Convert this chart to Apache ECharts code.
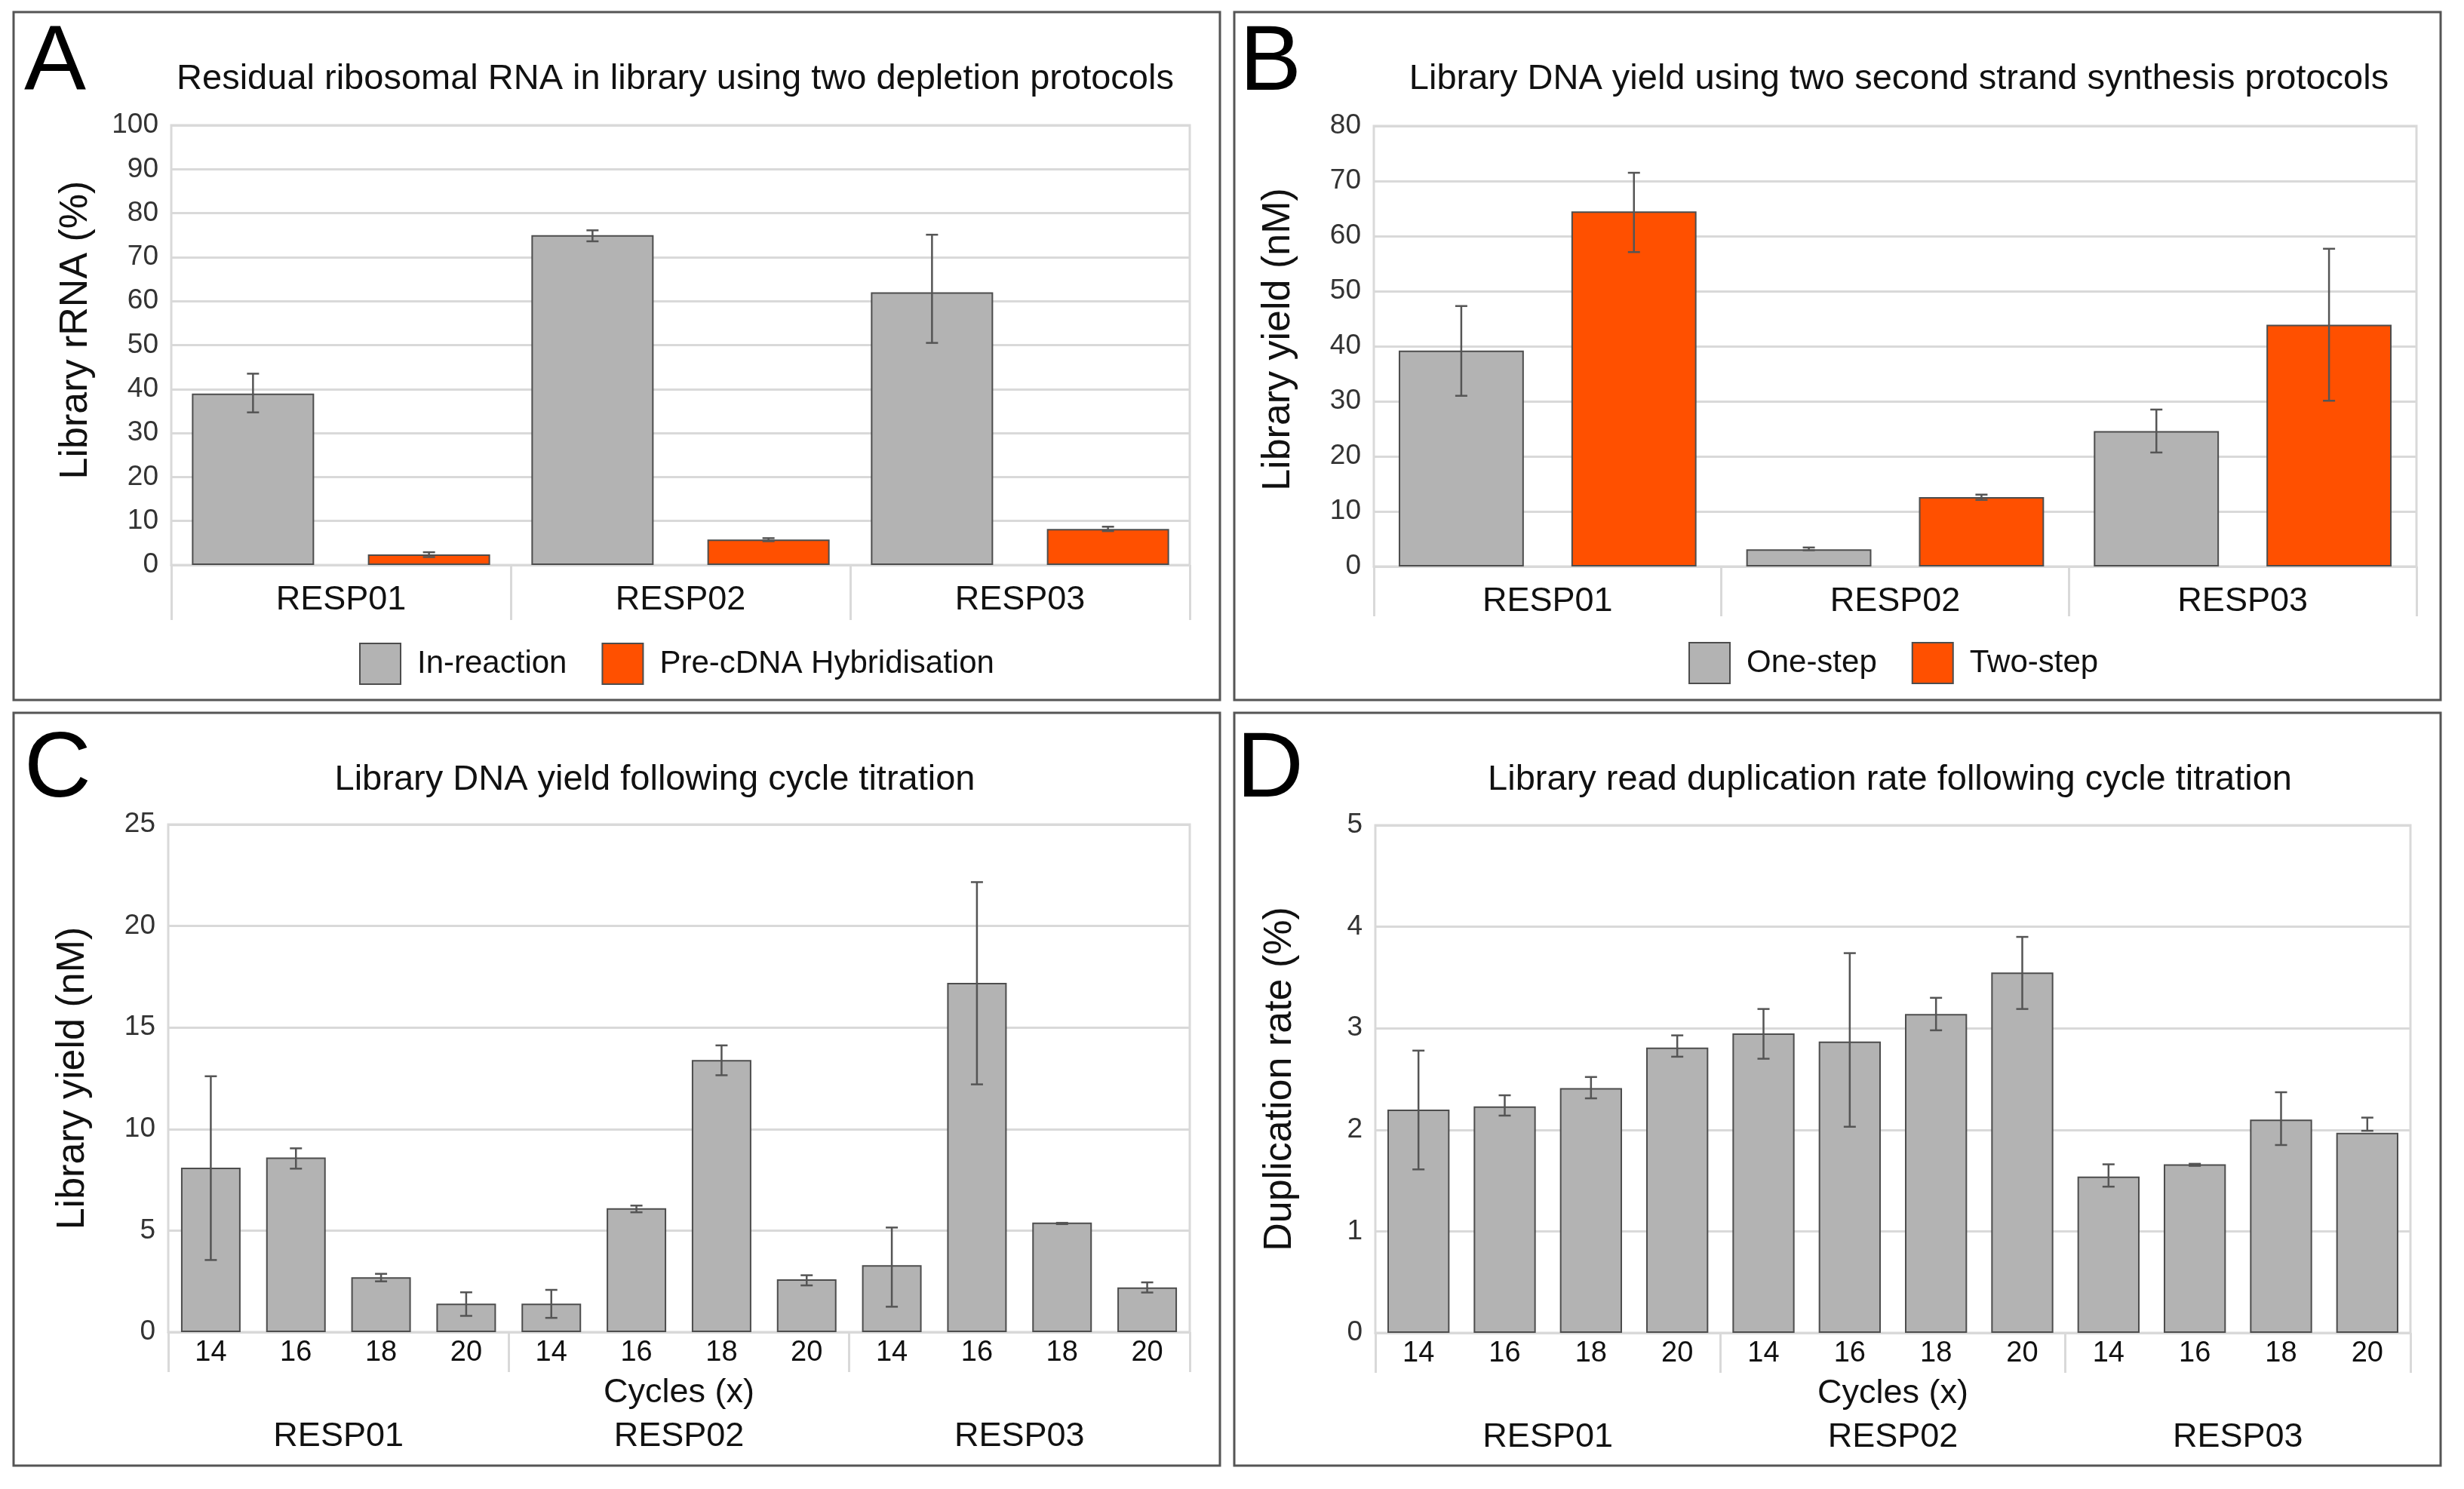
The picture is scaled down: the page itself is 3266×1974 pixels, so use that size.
<!DOCTYPE html>
<html><head><meta charset="utf-8">
<script src="https://cdn.jsdelivr.net/npm/echarts@6/dist/echarts.min.js"></script>
<style>html,body{margin:0;padding:0;background:#fff}#c{width:3266px;height:1974px}</style>
</head><body><div id="c"></div>
<script>
// ---- data ----
const groups = ['RESP01', 'RESP02', 'RESP03'];
const cycles = ['14', '16', '18', '20', '14', '16', '18', '20', '14', '16', '18', '20'];

// Panel A: residual rRNA (%)
const aInReaction   = [39.0, 75.0, 62.0];
const aInReactionLo = [34.7, 73.6, 50.5];
const aInReactionHi = [43.5, 76.1, 75.1];
const aPreCDNA      = [2.4, 5.8, 8.2];
const aPreCDNALo    = [1.8, 5.4, 7.7];
const aPreCDNAHi    = [2.9, 6.1, 8.7];

// Panel B: library yield (nM)
const bOneStep   = [39.2, 3.1, 24.6];
const bOneStepLo = [31.0, 2.95, 20.7];
const bOneStepHi = [47.3, 3.45, 28.5];
const bTwoStep   = [64.5, 12.6, 43.9];
const bTwoStepLo = [57.1, 12.1, 30.1];
const bTwoStepHi = [71.5, 13.05, 57.7];

// Panel C: library yield (nM) by cycles
const cYield   = [8.1, 8.6, 2.7, 1.4, 1.4, 6.1, 13.4, 2.6, 3.3, 17.2, 5.4, 2.2];
const cYieldLo = [3.55, 8.05, 2.5, 0.8, 0.7, 5.9, 12.65, 2.3, 1.25, 12.2, 5.32, 1.95];
const cYieldHi = [12.6, 9.05, 2.87, 1.96, 2.08, 6.23, 14.12, 2.8, 5.15, 22.16, 5.38, 2.45];

// Panel D: duplication rate (%)
const dDup   = [2.20, 2.23, 2.41, 2.81, 2.95, 2.87, 3.14, 3.55, 1.54, 1.66, 2.10, 1.97];
const dDupLo = [1.61, 2.14, 2.31, 2.72, 2.70, 2.03, 2.98, 3.19, 1.44, 1.645, 1.85, 1.99];
const dDupHi = [2.78, 2.34, 2.52, 2.93, 3.19, 3.74, 3.30, 3.90, 1.66, 1.665, 2.37, 2.12];

// ---- styling ----
const FF = 'Liberation Sans, Arial, sans-serif';
const GRID_C = '#d9d9d9';
const GRAY = '#b3b3b3';
const ORANGE = '#ff5000';
const EDGE = '#4d4d4d';
const ERR = '#555555';

function errRender(bwFrac, gapFrac, sign) {
  return function (params, api) {
    const i = api.value(0);
    const pHi = api.coord([i, api.value(2)]);
    const pLo = api.coord([i, api.value(1)]);
    const band = api.size([1, 0])[0];
    const bw = band * bwFrac;
    const x = pHi[0] + sign * (bw + bw * gapFrac) / 2;
    const c = 8;
    const st = { stroke: ERR, lineWidth: 2.5 };
    return { type: 'group', children: [
      { type: 'line', shape: { x1: x, y1: pHi[1], x2: x, y2: pLo[1] }, style: st },
      { type: 'line', shape: { x1: x - c, y1: pHi[1], x2: x + c, y2: pHi[1] }, style: st },
      { type: 'line', shape: { x1: x - c, y1: pLo[1], x2: x + c, y2: pLo[1] }, style: st }
    ]};
  };
}
function errData(lo, hi) { return lo.map((v, i) => [i, v, hi[i]]); }

function yAx(gi, max, interval, name, shiftUp) {
  return {
    type: 'value', gridIndex: gi, min: 0, max: max, interval: interval,
    name: name, nameLocation: 'middle', nameGap: 100,
    nameTextStyle: { fontSize: 52, color: '#111', fontFamily: FF, padding: [0, 0, 0, shiftUp * 2] },
    axisLine: { show: false }, axisTick: { show: false },
    axisLabel: { fontSize: 37, color: '#333', fontFamily: FF, margin: 17 },
    splitLine: { lineStyle: { color: GRID_C, width: 3 } }
  };
}
function gridBox(left, top, width, height) {
  return { left, top, width, height, show: true, borderColor: GRID_C, borderWidth: 3, backgroundColor: 'transparent' };
}
function barS(name, xi, yi, data, color, extra) {
  return Object.assign({
    name, type: 'bar', xAxisIndex: xi, yAxisIndex: yi, data,
    itemStyle: { color, borderColor: EDGE, borderWidth: 2 }
  }, extra);
}
function errS(xi, yi, lo, hi, bwFrac, gapFrac, sign) {
  return {
    type: 'custom', xAxisIndex: xi, yAxisIndex: yi, z: 10,
    renderItem: errRender(bwFrac, gapFrac, sign),
    data: errData(lo, hi), encode: { x: 0, y: [1, 2] }, silent: true
  };
}

const catLabel = { fontSize: 45, color: '#111', fontFamily: FF };
const cycLabel = { interval: 0, margin: 9, fontSize: 38, color: '#111', fontFamily: FF };

const option = {
  backgroundColor: '#fff',
  animation: false,
  textStyle: { fontFamily: FF },
  grid: [
    gridBox(227, 166, 1350, 583),
    gridBox(1821, 167, 1382, 584),
    gridBox(223, 1093, 1354, 673),
    gridBox(1823, 1094, 1372, 673)
  ],
  xAxis: [
    { type: 'category', gridIndex: 0, data: groups,
      axisLine: { lineStyle: { color: GRID_C, width: 3 } },
      axisTick: { show: true, interval: 0, length: 73, lineStyle: { color: GRID_C, width: 3 } },
      axisLabel: Object.assign({ interval: 0, margin: 24 }, catLabel) },
    { type: 'category', gridIndex: 1, data: groups,
      axisLine: { lineStyle: { color: GRID_C, width: 3 } },
      axisTick: { show: true, interval: 0, length: 66, lineStyle: { color: GRID_C, width: 3 } },
      axisLabel: Object.assign({ interval: 0, margin: 24 }, catLabel) },
    { type: 'category', gridIndex: 2, data: cycles,
      name: 'Cycles (x)', nameLocation: 'middle', nameGap: 58,
      nameTextStyle: { fontSize: 45, color: '#111', fontFamily: FF },
      axisLine: { lineStyle: { color: GRID_C, width: 3 } }, axisTick: { show: false },
      axisLabel: cycLabel },
    { type: 'category', gridIndex: 2, data: groups, position: 'bottom',
      axisLine: { show: false },
      axisTick: { show: true, interval: 0, length: 53, lineStyle: { color: GRID_C, width: 3 } },
      axisLabel: Object.assign({ interval: 0, margin: 116 }, catLabel) },
    { type: 'category', gridIndex: 3, data: cycles,
      name: 'Cycles (x)', nameLocation: 'middle', nameGap: 58,
      nameTextStyle: { fontSize: 45, color: '#111', fontFamily: FF },
      axisLine: { lineStyle: { color: GRID_C, width: 3 } }, axisTick: { show: false },
      axisLabel: cycLabel },
    { type: 'category', gridIndex: 3, data: groups, position: 'bottom',
      axisLine: { show: false },
      axisTick: { show: true, interval: 0, length: 53, lineStyle: { color: GRID_C, width: 3 } },
      axisLabel: Object.assign({ interval: 0, margin: 116 }, catLabel) }
  ],
  yAxis: [
    yAx(0, 100, 10, 'Library rRNA (%)', 20),
    yAx(1, 80, 10, 'Library yield (nM)', 9),
    yAx(2, 25, 5, 'Library yield (nM)', 0),
    yAx(3, 5, 1, 'Duplication rate (%)', 0)
  ],
  legend: [
    { data: ['In-reaction', 'Pre-cDNA Hybridisation'], left: 476, top: 852, padding: 0,
      itemWidth: 54, itemHeight: 54, itemGap: 46, icon: 'rect',
      textStyle: { fontSize: 42, color: '#111', fontFamily: FF, padding: [0, 0, 0, 17] } },
    { data: ['One-step', 'Two-step'], left: 2238, top: 851, padding: 0,
      itemWidth: 54, itemHeight: 54, itemGap: 46, icon: 'rect',
      textStyle: { fontSize: 42, color: '#111', fontFamily: FF, padding: [0, 0, 0, 17] } }
  ],
  series: [
    barS('In-reaction', 0, 0, aInReaction, GRAY, { barWidth: '36%', barGap: '44%' }),
    barS('Pre-cDNA Hybridisation', 0, 0, aPreCDNA, ORANGE, { barWidth: '36%', barGap: '44%' }),
    errS(0, 0, aInReactionLo, aInReactionHi, 0.36, 0.44, -1),
    errS(0, 0, aPreCDNALo, aPreCDNAHi, 0.36, 0.44, 1),

    barS('One-step', 1, 1, bOneStep, GRAY, { barWidth: '36%', barGap: '38%' }),
    barS('Two-step', 1, 1, bTwoStep, ORANGE, { barWidth: '36%', barGap: '38%' }),
    errS(1, 1, bOneStepLo, bOneStepHi, 0.36, 0.38, -1),
    errS(1, 1, bTwoStepLo, bTwoStepHi, 0.36, 0.38, 1),

    barS('Yield', 2, 2, cYield, GRAY, { barCategoryGap: '30%' }),
    errS(2, 2, cYieldLo, cYieldHi, 0.7, 0, 0),

    barS('Duplication', 4, 3, dDup, GRAY, { barCategoryGap: '28%' }),
    errS(4, 3, dDupLo, dDupHi, 0.72, 0, 0)
  ],
  graphic: [
    { type: 'rect', shape: { x: 18, y: 16, width: 1599, height: 912 }, style: { fill: 'none', stroke: '#555', lineWidth: 3 } },
    { type: 'rect', shape: { x: 1636, y: 16, width: 1599, height: 912 }, style: { fill: 'none', stroke: '#555', lineWidth: 3 } },
    { type: 'rect', shape: { x: 18, y: 945, width: 1599, height: 998 }, style: { fill: 'none', stroke: '#555', lineWidth: 3 } },
    { type: 'rect', shape: { x: 1636, y: 945, width: 1599, height: 998 }, style: { fill: 'none', stroke: '#555', lineWidth: 3 } },

    { type: 'text', x: 32, y: 85, style: { text: 'A', fontSize: 123, fontFamily: FF, fill: '#000', align: 'left', verticalAlign: 'middle' } },
    { type: 'text', x: 1643, y: 85, style: { text: 'B', fontSize: 123, fontFamily: FF, fill: '#000', align: 'left', verticalAlign: 'middle' } },
    { type: 'text', x: 32, y: 1022, style: { text: 'C', fontSize: 123, fontFamily: FF, fill: '#000', align: 'left', verticalAlign: 'middle' } },
    { type: 'text', x: 1639, y: 1022, style: { text: 'D', fontSize: 123, fontFamily: FF, fill: '#000', align: 'left', verticalAlign: 'middle' } },

    { type: 'text', x: 895, y: 105, style: { text: 'Residual ribosomal RNA in library using two depletion protocols', fontSize: 47, fontFamily: FF, fill: '#111', align: 'center', verticalAlign: 'middle' } },
    { type: 'text', x: 2517, y: 105, style: { text: 'Library DNA yield using two second strand synthesis protocols', fontSize: 47, fontFamily: FF, fill: '#111', align: 'center', verticalAlign: 'middle' } },
    { type: 'text', x: 868, y: 1034, style: { text: 'Library DNA yield following cycle titration', fontSize: 47, fontFamily: FF, fill: '#111', align: 'center', verticalAlign: 'middle' } },
    { type: 'text', x: 2505, y: 1034, style: { text: 'Library read duplication rate following cycle titration', fontSize: 47, fontFamily: FF, fill: '#111', align: 'center', verticalAlign: 'middle' } }
  ]
};

const chart = echarts.init(document.getElementById('c'), null, { renderer: 'canvas', width: 3266, height: 1974 });
chart.setOption(option);
</script>
</body></html>
